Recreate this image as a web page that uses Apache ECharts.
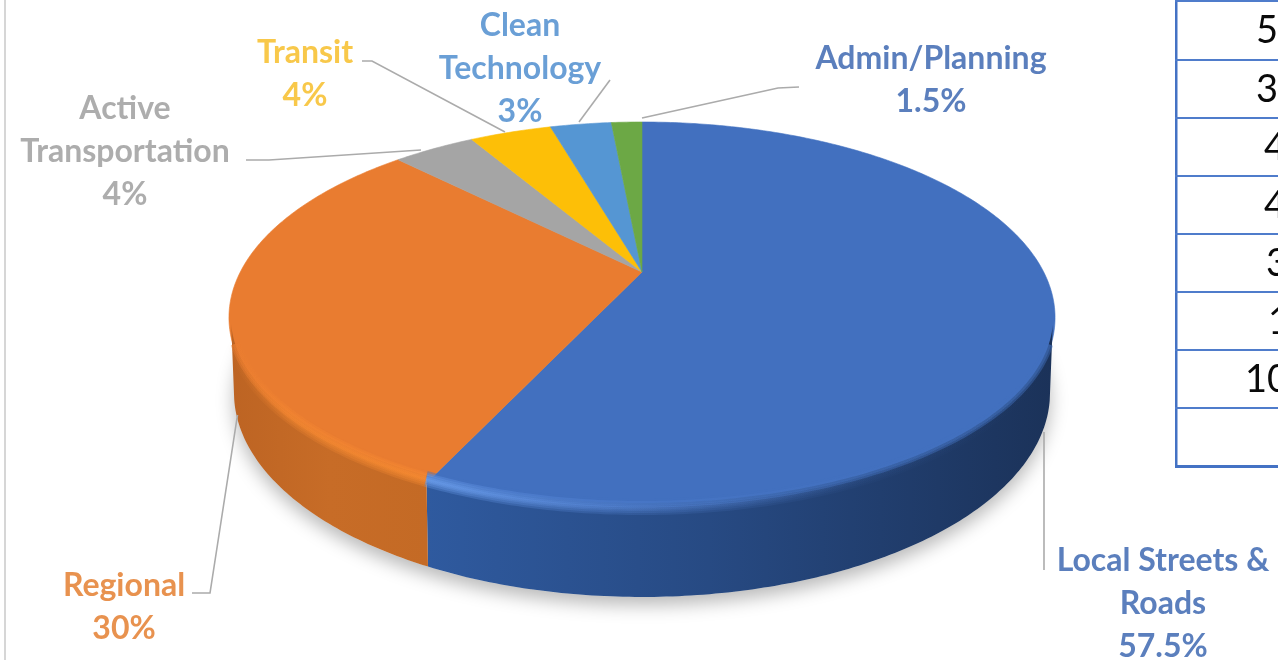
<!DOCTYPE html>
<html><head><meta charset="utf-8">
<script src="https://cdn.jsdelivr.net/npm/echarts@6/dist/echarts.min.js"></script>
<style>html,body{margin:0;padding:0;background:#fff}#c{width:1278px;height:661px;filter:blur(0.55px)}</style>
</head><body><div id="c"></div>
<script>
// DATA
const categories = ['Local Streets &\nRoads','Regional','Active\nTransportation','Transit','Clean\nTechnology','Admin/Planning'];
const shares = [57.5,30,4,4,3,1.5];
const tableValues = ['5','3','4','4','3','1','10'];

// STYLE / LAYOUT
const faceColors = ['#4270bf','#e97c30','#a5a5a5','#fdbf07','#5596d3','#6ca845'];
const textColors = ['#5b7fbd','#e8924f','#adadad','#f8c84a','#6a9fd6','#5b7fbd'];
const labelPos = [[1163,604],[124,607],[125,152],[305,74],[520,69],[931,80]];
const leaderPts = [
  [[1044,432],[1044,570]],
  [[237.5,415],[210,593],[192,593]],
  [[421,150],[269,160],[246,160]],
  [[505,132],[372,61],[362,61]],
  [[579,122],[610,80]],
  [[642,118],[778,88],[799,87]]
];
const tableX = [1256,1256,1264,1264,1266,1268,1245];
const rowLines = [1,60,118,176,234,292,350,408];
const G = {cx:642, apexY:272, k:0.2327, A:184.9, B:401.7, midY:318, ry:195, rx:413, bMidY:393, bRy:204, bRx:408, bevel:10};

const total = shares.reduce((a,b)=>a+b,0);
const starts = []; shares.reduce((acc,v,i)=>{starts[i]=acc; return acc+v;},0);
function rim(t){ // t: fraction of the turn, clockwise from top
  const tw=t-0.005*Math.exp(-Math.pow((t-0.575)/0.1,2)); // small front perspective correction
  const a=tw*2*Math.PI, u=Math.sin(a), v=-Math.cos(a), d=1-G.k*v;
  return [G.cx+G.B*u/d, G.apexY+G.A*v/d];
}
function low(p){ return [G.cx+(p[0]-G.cx)*G.bRx/G.rx, G.bMidY+(p[1]-G.midY)*G.bRy/G.ry]; }
function inset(p){ return [G.cx+(p[0]-G.cx)*(1-2/G.rx), G.midY+(p[1]-G.midY)*(1-G.bevel/G.ry)]; }
function arcPts(t0,t1,step){
  const n=Math.max(2,Math.ceil((t1-t0)/step)), r=[];
  for(let i=0;i<=n;i++) r.push(rim(t0+(t1-t0)*i/n));
  return r;
}
const wallGrad = [
  {type:'linear',x:0,y:0,x2:1,y2:0,global:false,colorStops:[{offset:0,color:'#2f5a9f'},{offset:0.45,color:'#274a83'},{offset:1,color:'#1b3259'}]},
  {type:'linear',x:0,y:0,x2:1,y2:0,global:false,colorStops:[{offset:0,color:'#bd6423'},{offset:0.5,color:'#c76c27'},{offset:1,color:'#c46a25'}]}
];
const rimGrad = [
  {type:'linear',x:0,y:0,x2:1,y2:0,colorStops:[{offset:0,color:'rgba(118,170,250,.9)'},{offset:0.3,color:'rgba(100,150,235,.6)'},{offset:0.7,color:'rgba(80,125,205,.12)'},{offset:1,color:'rgba(60,100,170,0)'}]},
  {type:'linear',x:0,y:0,x2:1,y2:0,colorStops:[{offset:0,color:'rgba(245,135,50,0)'},{offset:0.3,color:'rgba(250,140,50,.7)'},{offset:1,color:'rgba(252,142,50,.95)'}]}
];
const seriesData = shares.map((v,i)=>({value:v,name:categories[i]}));

function frontRim(i,v,minDy){
  const t0=starts[i]/total, t1=t0+v/total;
  return arcPts(t0,t1,0.002).filter(p=>p[1]>=G.midY+minDy);
}
function wallItem(params,api){
  const i=params.dataIndex, top=frontRim(i,api.value(0),6);
  if(top.length<2) return {type:'group',children:[]};
  const bot=top.map(low).reverse();
  return {type:'polygon',shape:{points:top.map(inset).concat(bot)},style:{fill:wallGrad[i]||'#888'}};
}
function bevelItem(params,api){
  const i=params.dataIndex, top=frontRim(i,api.value(0),26);
  if(top.length<2) return {type:'group',children:[]};
  const face=faceColors[i];
  const up=top.map(inset);
  const mid=top.map((p,k)=>[(p[0]+up[k][0])/2,(p[1]+up[k][1])/2]);
  const kids=[];
  [9,5].forEach(w=>kids.push({type:'polyline',shape:{points:up},style:{fill:'none',stroke:face,lineWidth:w,opacity:0.45}}));
  [14,10,6,3].forEach(w=>kids.push({type:'polyline',shape:{points:mid},style:{fill:'none',stroke:rimGrad[i]||'none',lineWidth:w,opacity:0.3}}));
  return {type:'group',children:kids};
}
function shadowItem(params,api){
  if(params.dataIndex!==0) return {type:'group',children:[]};
  const pts=arcPts(0,1,0.004).map(low);
  return {type:'polygon',shape:{points:pts},style:{fill:'#e4e4e4',shadowBlur:18,shadowColor:'rgba(0,0,0,.28)',shadowOffsetY:8}};
}
function faceItem(params,api){
  const i=params.dataIndex;
  const t0=starts[i]/total, t1=t0+api.value(0)/total;
  const pts=[[G.cx,G.apexY]].concat(arcPts(t0,t1,0.002));
  return {type:'polygon',shape:{points:pts},style:{fill:faceColors[i],stroke:faceColors[i],lineWidth:0.6}};
}
function labelItem(params,api){
  const i=params.dataIndex;
  return {type:'group',children:[
    {type:'polyline',shape:{points:leaderPts[i]},style:{fill:'none',stroke:'#ababab',lineWidth:1.6}},
    {type:'text',style:{text:categories[i]+'\n'+api.value(0)+'%',x:labelPos[i][0],y:labelPos[i][1],align:'center',verticalAlign:'middle',
      fill:textColors[i],font:'bold 32px Lato',lineHeight:43}}
  ]};
}
const tableGraphics=[
  {type:'rect',shape:{x:4,y:0,width:2,height:660},style:{fill:'#d6d6d6'}},
  {type:'rect',shape:{x:1175,y:1,width:2.5,height:466},style:{fill:'#4472c4'}},
  {type:'rect',shape:{x:1175,y:465,width:103,height:3},style:{fill:'#4472c4'}}
];
rowLines.forEach(y=>tableGraphics.push({type:'rect',shape:{x:1175,y:y-1,width:103,height:2},style:{fill:'#4f7ccb'}}));
tableValues.forEach((s,i)=>tableGraphics.push({type:'text',style:{text:s,x:tableX[i],y:rowLines[i]+30,verticalAlign:'middle',align:'left',fill:'#0a0a0a',font:'38px Lato'}}));

const chart=echarts.init(document.getElementById('c'),null,{renderer:'canvas'});
const mk=(fn,z)=>({type:'custom',coordinateSystem:'none',renderItem:fn,data:seriesData,z:z,animation:false,silent:true,encode:{value:0}});
chart.setOption({
  animation:false,
  backgroundColor:'#fff',
  graphic:{elements:tableGraphics},
  series:[mk(shadowItem,1),mk(faceItem,2),mk(wallItem,3),mk(bevelItem,4),mk(labelItem,5)]
});
</script></body></html>
